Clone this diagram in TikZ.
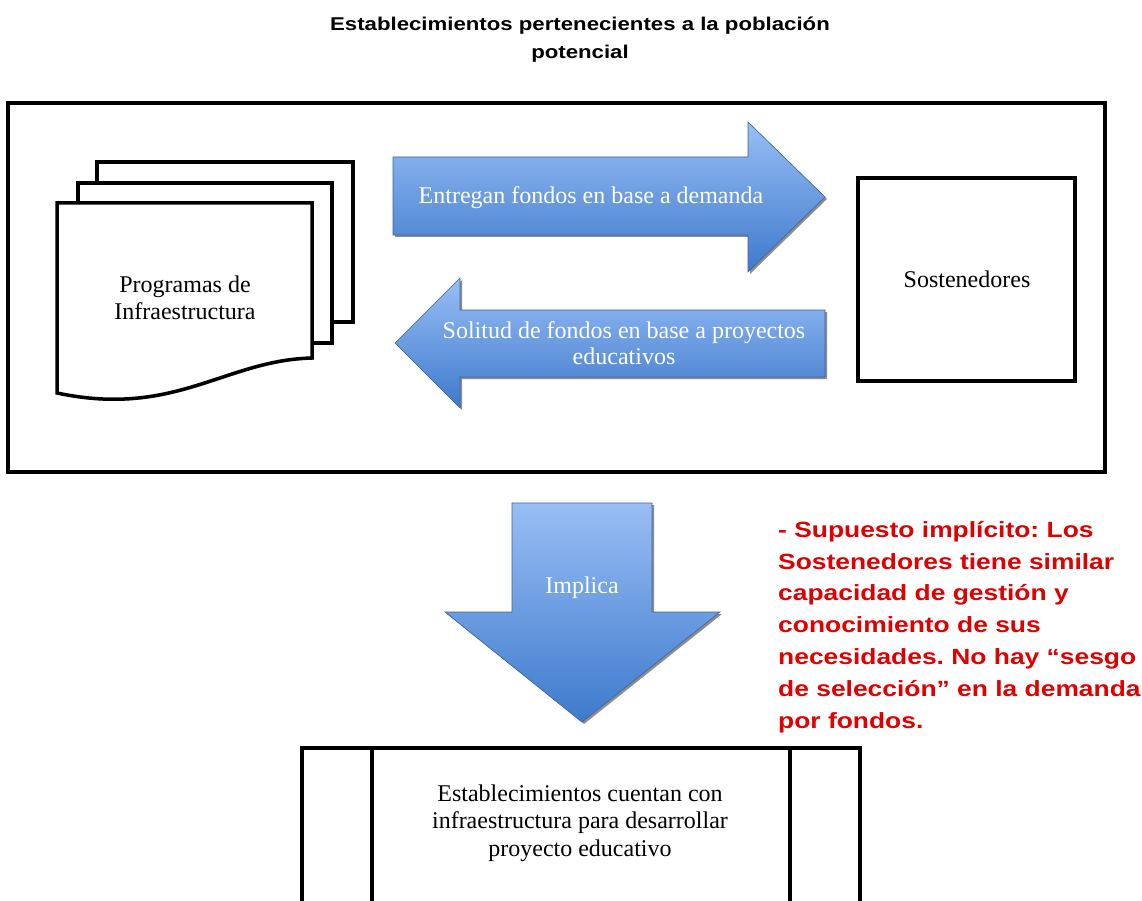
\documentclass[tikz,border=0pt]{standalone}
\usepackage{fontspec}
\setmainfont{Liberation Serif}
\newfontfamily\arialwide{Liberation Sans}[FakeStretch=1.2]
\usetikzlibrary{shadows}
\definecolor{arrowtop}{RGB}{152,190,245}
\definecolor{arrowbot}{RGB}{62,122,204}
\definecolor{arrowline}{RGB}{60,100,160}
\definecolor{notered}{RGB}{225,0,0}
\frenchspacing

\begin{document}
\begin{tikzpicture}[x=1pt,y=-1pt]
  \tikzstyle{box}=[draw=black,line width=3.5pt,fill=white,line join=miter,
    drop shadow={shadow xshift=1.5pt,shadow yshift=-1.5pt,opacity=.7}]
  \tikzstyle{bigarrow}=[draw=arrowline,line width=.6pt,top color=arrowtop,bottom color=arrowbot,
    drop shadow={shadow xshift=2pt,shadow yshift=-2pt,opacity=.9}]
  \tikzstyle{arrowtext}=[text=white,align=center,font=\fontsize{24}{26}\selectfont]
  \tikzstyle{boxtext}=[align=center,font=\fontsize{24}{27.5}\selectfont]

  \clip (0,0) rectangle (1142,901);
  \fill[white] (0,0) rectangle (1142,901);

  \node[align=center,font=\arialwide\bfseries\fontsize{18.5}{28}\selectfont] (title) at (580,40)
    {Establecimientos pertenecientes a la población\\potencial};

  \draw[box] (8,103) rectangle (1105,472);

  \draw[box] (97,162) rectangle (353,322);
  \draw[box] (78,183) rectangle (332,343);
  \draw[box] (57,203) -- (312,203) -- (312,358)
    .. controls (225,360) and (175,418) .. (57,393) -- cycle;
  \node[boxtext] (prog) at (185,298) {Programas de\\Infraestructura};

  \draw[box] (858,178) rectangle (1075,381);
  \node[boxtext,anchor=base] (sost) at (967,287) {Sostenedores};

  \draw[bigarrow] (393,157) -- (748,157) -- (748,122) -- (825,197)
    -- (748,272) -- (748,235) -- (393,235) -- cycle;
  \node[arrowtext,anchor=base] (entrega) at (591,204) {Entregan fondos en base a demanda};

  \draw[bigarrow] (825,310) -- (460,310) -- (460,278) -- (395,343)
    -- (460,408) -- (460,377) -- (825,377) -- cycle;
  \node[arrowtext] (solicitud) at (624,343) {Solitud de fondos en base a proyectos\\educativos};

  \draw[bigarrow] (512,503) -- (652,503) -- (652,612) -- (720,612)
    -- (582,722) -- (445,612) -- (512,612) -- cycle;
  \node[arrowtext,anchor=base] (implica) at (582,593) {Implica};

  \draw[box] (302,748) rectangle (860,930);
  \draw[line width=3.5pt] (372,748) -- (372,930);
  \draw[line width=3.5pt] (790,748) -- (790,930);
  \node[boxtext] (resultado) at (580,823)
    {Establecimientos cuentan con\\infraestructura para desarrollar\\proyecto educativo};

  \node[anchor=north west,align=left,inner sep=0pt,text=notered,
    font=\arialwide\bfseries\fontsize{22}{31.8}\selectfont] (supuesto) at (778,521)
    {- Supuesto implícito: Los\\Sostenedores tiene similar\\capacidad de gestión y\\conocimiento de sus\\necesidades. No hay “sesgo\\de selección” en la demanda\\por fondos.};
\end{tikzpicture}
\end{document}
